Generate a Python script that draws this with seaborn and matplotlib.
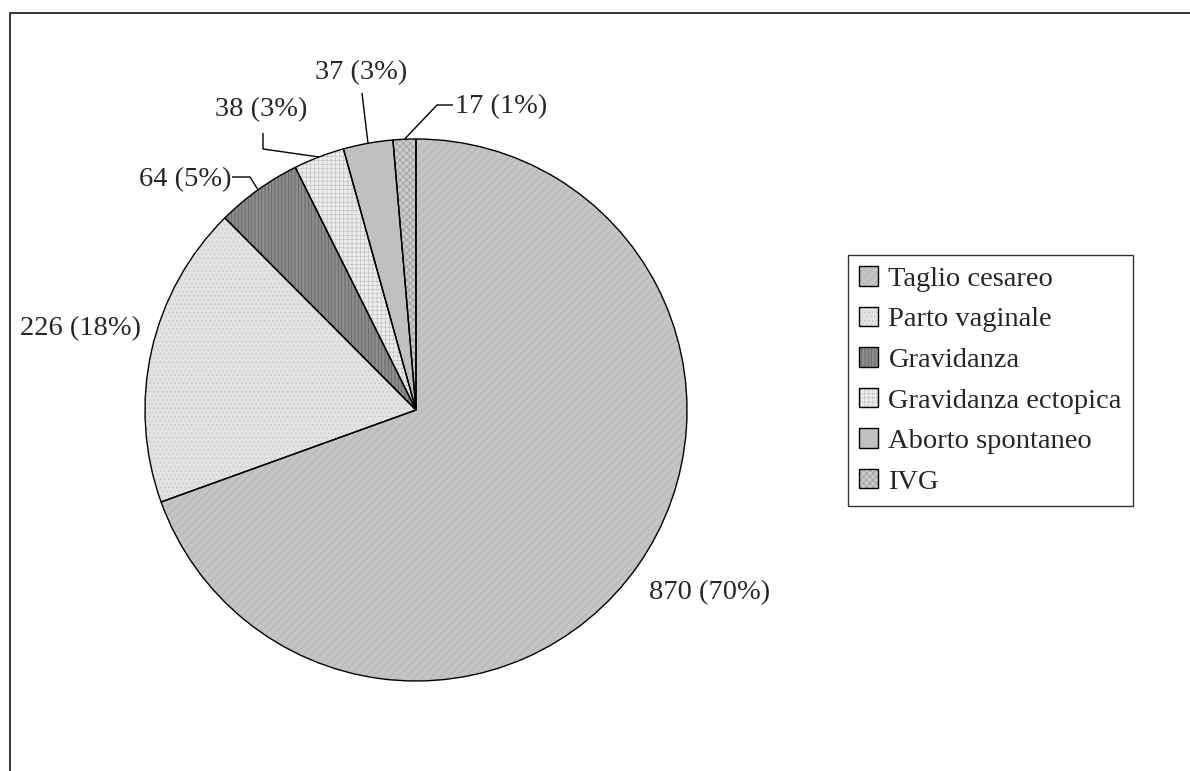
import matplotlib.pyplot as plt
import matplotlib.patches as mpatches
import seaborn as sns
import numpy as np

# data
categories = ["Taglio cesareo", "Parto vaginale", "Gravidanza",
              "Gravidanza ectopica", "Aborto spontaneo", "IVG"]
counts = [870, 226, 64, 38, 37, 17]
percents = [70, 18, 5, 3, 3, 1]

# grey fills + fine patterns (like the old office chart)
fills = ["#c4c4c4", "#e2e2e2", "#8c8c8c", "#ececec", "#c0c0c0", "#cacaca"]
hatch_cols = ["#b2b2b2", "#c8c8c8", "#5e5e5e", "#c4c4c4", "#c0c0c0", "#9a9a9a"]
hatches = ["////", "....", "|||||", "++++", "", "xxxxx"]

sns.set_theme(style="white")
plt.rcParams["font.family"] = ["Liberation Serif", "DejaVu Serif"]
plt.rcParams["hatch.linewidth"] = 0.5

W, H = 1190, 771
fig = plt.figure(figsize=(W / 100, H / 100), dpi=100)
ax = fig.add_axes([0, 0, 1, 1])


def px(x, y):
    # pixel position (top-left origin) -> data coords
    return x, H - y


cx, cy = px(416, 410)
R = 271

# pass 1: filled + hatched wedges, no outline
wedges, _ = ax.pie(counts, startangle=90, counterclock=False, radius=R,
                   center=(cx, cy), colors=fills,
                   wedgeprops=dict(linewidth=0))
for w, h, hc in zip(wedges, hatches, hatch_cols):
    w.set_hatch(h)
    w.set_edgecolor(hc)
    w.set_linewidth(0)

# pass 2: black outlines on top
outlines, _ = ax.pie(counts, startangle=90, counterclock=False, radius=R,
                     center=(cx, cy),
                     wedgeprops=dict(fill=False, edgecolor="black", linewidth=1.0))

ax.set_xlim(0, W)
ax.set_ylim(0, H)
ax.set_aspect("equal")
ax.axis("off")

# value labels
label_pos = [(710, 593), (81, 329), (185, 180), (261, 110), (361, 73), (501, 107)]
fs = 20.5
for v, p, (lx, ly) in zip(counts, percents, label_pos):
    ax.text(*px(lx, ly), f"{v} ({p}%)", ha="center", va="center", fontsize=fs)

# leader lines for the small slices: label anchor -> elbow -> wedge edge
leaders = {2: [(232, 177), (250, 177)],
           3: [(263, 133), (263, 149)],
           4: [(362, 93)],
           5: [(453, 105), (437, 105)]}
for i, pts in leaders.items():
    w = wedges[i]
    a = np.deg2rad((w.theta1 + w.theta2) / 2)
    ex, ey = cx + R * np.cos(a), cy + R * np.sin(a)
    xs = [px(*p)[0] for p in pts] + [ex]
    ys = [px(*p)[1] for p in pts] + [ey]
    ax.plot(xs, ys, color="black", linewidth=1.0, solid_capstyle="butt")

# legend
handles = [(w, o) for w, o in zip(wedges, outlines)]
leg = fig.legend(handles, categories, loc="upper left",
                 bbox_to_anchor=(848 / W, 1 - 255 / H), fontsize=fs,
                 frameon=True, fancybox=False, shadow=False,
                 handlelength=0.68, handleheight=0.68, handletextpad=0.35,
                 labelspacing=0.52, borderpad=0.39, borderaxespad=0)
leg.get_frame().set_edgecolor("black")
leg.get_frame().set_linewidth(1.0)

# outer chart border (runs off the right/bottom of the picture)
fig.add_artist(mpatches.Rectangle((9.5 / W, -0.05), 1.1, (H - 12.5) / H + 0.05,
                                  transform=fig.transFigure, fill=False,
                                  edgecolor="black", linewidth=1.1, clip_on=False))

fig.savefig("out.png", dpi=100)
